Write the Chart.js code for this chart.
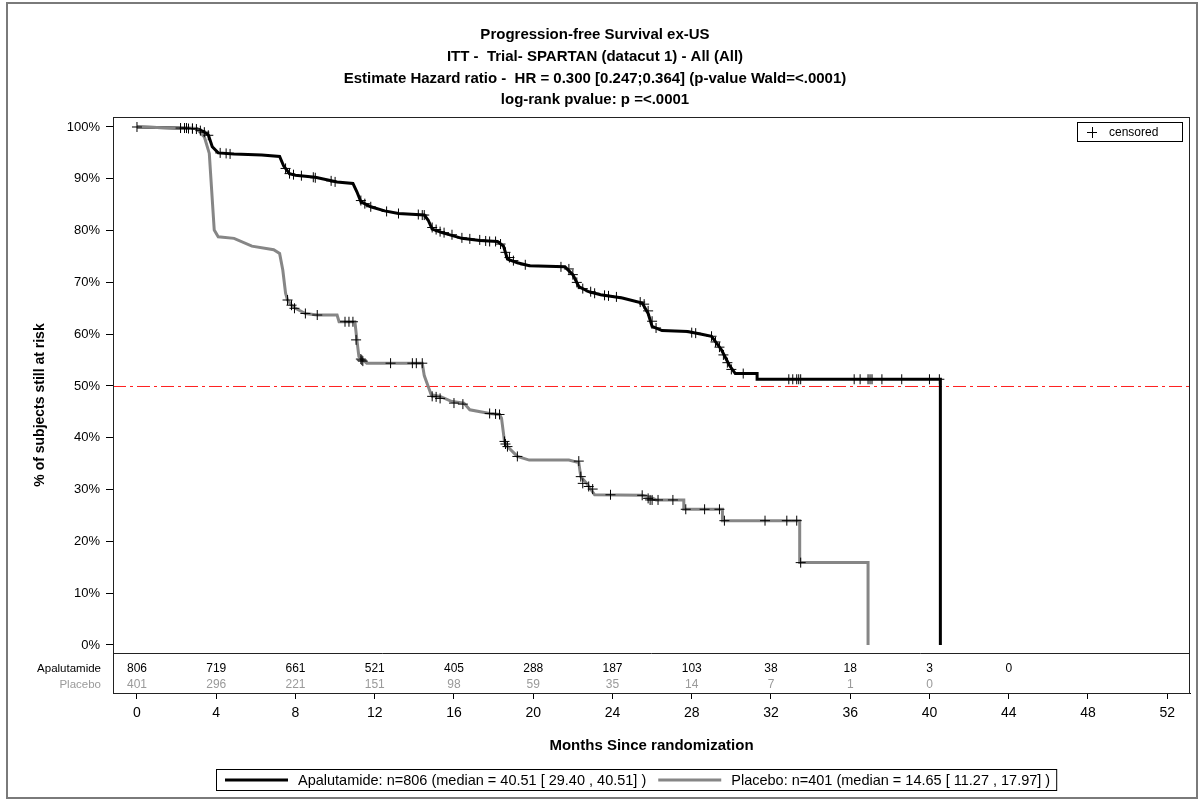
<!DOCTYPE html>
<html>
<head>
<meta charset="utf-8">
<title>Progression-free Survival ex-US</title>
<script src="https://cdn.jsdelivr.net/npm/chart.js@4.4.1/dist/chart.umd.min.js"></script>
<style>
  html, body { margin: 0; padding: 0; background: #fff; }
  #wrap { width: 1204px; height: 802px; }
</style>
</head>
<body>
<div id="wrap"><canvas id="kmChart" width="1204" height="802"></canvas></div>
<script>
const FONT = "'Liberation Sans', Arial, sans-serif";

const titleLines = [
  'Progression-free Survival ex-US',
  'ITT -  Trial- SPARTAN (datacut 1) - All (All)',
  'Estimate Hazard ratio -  HR = 0.300 [0.247;0.364] (p-value Wald=<.0001)',
  'log-rank pvalue: p =<.0001'
];

const xTicks = [0, 4, 8, 12, 16, 20, 24, 28, 32, 36, 40, 44, 48, 52];
const yTicks = [0, 10, 20, 30, 40, 50, 60, 70, 80, 90, 100];

// number at risk table
const riskTimes = [0, 4, 8, 12, 16, 20, 24, 28, 32, 36, 40, 44];
const apaAtRisk = [806, 719, 661, 521, 405, 288, 187, 103, 38, 18, 3, 0];
const plaAtRisk = [401, 296, 221, 151, 98, 59, 35, 14, 7, 1, 0];

// Apalutamide curve (months, % still at risk)
const apaMonths = [0, 3.0, 3.3, 3.6, 3.8, 4.1, 4.9, 6.3, 7.2, 7.4, 7.7, 8.0, 9.0, 10.1, 10.9, 11.1, 11.3, 11.8, 12.5, 13.2,
  14.5, 14.7, 14.9, 15.4, 16.4, 17.3, 18.2, 18.5, 18.7, 19.2, 19.8, 21.6, 22.0, 22.3, 22.8, 23.4, 24.5, 25.5, 25.8, 26.0,
  26.5, 27.8, 28.5, 29.0, 29.5, 29.9, 30.2, 31.3, 31.3, 40.55, 40.55];
const apaSurv = [100, 99.7, 99.2, 98.5, 96.2, 95.0, 94.8, 94.6, 94.3, 92.5, 91.0, 90.7, 90.3, 89.4, 89.1, 87.5, 85.6, 84.6, 83.8, 83.3,
  83.0, 82.0, 80.3, 79.6, 78.5, 78.1, 77.9, 77.0, 74.5, 73.8, 73.2, 73.0, 71.5, 69.2, 68.2, 67.6, 67.0, 66.0, 64.0, 61.5,
  60.7, 60.5, 60.0, 59.6, 57.0, 54.0, 52.4, 52.4, 51.3, 51.3, 0];

// Placebo curve
const plaMonths = [0, 3.0, 3.4, 3.65, 3.9, 4.1, 4.9, 5.8, 6.9, 7.2, 7.36, 7.5, 7.6, 7.8, 8.0, 8.5, 9.1, 10.1, 10.2, 11.0,
  11.1, 11.2, 11.6, 14.4, 14.5, 14.85, 15.3, 15.9, 16.5, 16.8, 17.8, 18.3, 18.4, 18.55, 18.7, 19.2, 19.8, 21.8, 22.3, 22.4,
  22.7, 23.1, 25.5, 26.0, 26.2, 27.6, 27.6, 29.55, 29.55, 33.45, 33.45, 36.9, 36.9];
const plaSurv = [100, 99.7, 98.1, 94.9, 80.1, 78.8, 78.5, 77.0, 76.3, 75.6, 72.4, 67.9, 66.6, 65.6, 65.0, 64.0, 63.7, 63.7, 62.4, 62.4,
  58.9, 55.7, 54.4, 54.4, 52.0, 48.3, 48.0, 47.0, 46.7, 45.4, 44.7, 44.5, 43.8, 39.3, 38.3, 36.4, 35.7, 35.7, 35.2, 32.5,
  31.2, 29.0, 28.9, 28.4, 28.0, 28.0, 26.2, 26.2, 24.0, 24.0, 15.9, 15.9, 0];

// censored observations
const apaCensorMonths = [0, 2.2, 2.4, 2.6, 2.8, 3.0, 3.2, 3.4, 3.6, 4.2, 4.5, 4.7, 7.5, 7.7, 7.9, 8.3, 8.9, 9.0, 9.8, 10.0,
  11.3, 11.5, 11.8, 12.6, 13.2, 14.2, 14.4, 14.5, 14.9, 15.1, 15.3, 15.5, 15.9, 16.4, 16.8, 17.3, 17.6, 17.8, 18.1, 18.35,
  18.6, 18.8, 19.0, 19.6, 21.4, 21.8, 22.0, 22.2, 22.5, 22.9, 23.1, 23.6, 23.8, 24.2, 25.4, 25.6, 25.8, 26.0, 26.2, 28.0,
  28.2, 29.0, 29.2, 29.4, 29.6, 29.8, 30.0, 30.6, 32.9, 33.1, 33.3, 33.4, 33.5, 36.2, 36.5, 36.9, 37.0, 37.1, 37.6, 38.6,
  40.0, 40.5];
const apaCensorSurv = [100, 99.8, 99.8, 99.7, 99.7, 99.6, 99.3, 99.0, 98.4, 95.0, 94.9, 94.8, 92.0, 91.0, 90.8, 90.6, 90.3, 90.2, 89.6, 89.4,
  85.8, 85.2, 84.6, 83.7, 83.3, 83.1, 83.0, 83.0, 80.6, 80.2, 79.8, 79.6, 79.2, 78.6, 78.4, 78.2, 78.0, 77.9, 77.9, 77.4,
  75.8, 74.8, 74.2, 73.4, 73.0, 72.6, 71.5, 70.0, 68.8, 68.2, 67.9, 67.5, 67.4, 67.2, 66.2, 65.8, 64.5, 62.5, 61.2, 60.3,
  60.2, 59.6, 58.5, 57.5, 56.0, 54.5, 53.2, 52.4, 51.3, 51.3, 51.3, 51.3, 51.3, 51.3, 51.3, 51.3, 51.3, 51.3, 51.3, 51.3,
  51.3, 51.3];
const plaCensorMonths = [2.5, 2.8, 7.6, 7.8, 7.95, 8.5, 9.1, 10.5, 10.7, 10.9, 11.06, 11.3, 11.35, 11.4, 12.8, 13.9, 14.1, 14.4,
  14.9, 15.1, 15.3, 16.0, 16.45, 17.8, 18.1, 18.3, 18.55, 18.6, 18.7, 19.2, 22.3, 22.4, 22.5, 22.8, 23.0, 23.9, 25.5, 25.8,
  25.9, 26.0, 26.3, 27.05, 27.7, 28.65, 29.4, 29.65, 31.7, 32.8, 33.3, 33.5];
const plaCensorSurv = [99.8, 99.7, 66.6, 65.6, 65.0, 64.0, 63.7, 62.4, 62.4, 62.4, 58.9, 55.2, 55.0, 54.8, 54.4, 54.4, 54.4, 54.4,
  48.0, 47.9, 47.6, 46.7, 46.5, 44.7, 44.6, 44.5, 39.3, 38.8, 38.3, 36.4, 35.5, 32.5, 31.2, 30.6, 30.1, 29.0, 28.9, 28.3,
  28.0, 28.0, 28.0, 28.0, 26.2, 26.2, 26.2, 24.0, 24.0, 24.0, 24.0, 15.9];

const medianRef = 50;

const armNames = ['Apalutamide', 'Placebo'];
const armN = [806, 401];
const armMedian = ['40.51', '14.65'];
const armLow = ['29.40', '11.27'];
const armHigh = ['40.51', '17.97'];
const armColors = ['#000000', '#868686'];
const riskColors = ['#000000', '#9a9a9a'];

const toXY = (xs, ys) => xs.map((x, i) => ({ x: x, y: ys[i] }));

// extras drawn straight on the canvas: frames, 50% line, risk table, legends
const kmExtras = {
  id: 'kmExtras',
  beforeDatasetsDraw(chart) {
    const { ctx, chartArea: ca, scales } = chart;
    const y50 = scales.y.getPixelForValue(medianRef);
    ctx.save();
    ctx.strokeStyle = '#ff2020';
    ctx.lineWidth = 1;
    ctx.setLineDash([13, 4, 3, 4]);
    ctx.beginPath();
    ctx.moveTo(ca.left, y50 + 0.5);
    ctx.lineTo(ca.right, y50 + 0.5);
    ctx.stroke();
    ctx.restore();
  },
  afterDraw(chart) {
    const { ctx, chartArea: ca, scales } = chart;
    ctx.save();

    // whole picture border
    ctx.strokeStyle = '#7a7a7a';
    ctx.lineWidth = 2;
    ctx.strokeRect(7, 3, 1190, 795);

    // plot frame
    ctx.strokeStyle = '#222';
    ctx.lineWidth = 1;
    ctx.strokeRect(ca.left + 0.5, ca.top + 0.5, ca.right - ca.left - 1, ca.bottom - ca.top);

    // risk table
    const sepY = ca.bottom - 40;
    ctx.beginPath();
    ctx.moveTo(ca.left, sepY + 0.5);
    ctx.lineTo(ca.right, sepY + 0.5);
    ctx.stroke();

    const rows = [apaAtRisk, plaAtRisk];
    const rowY = [ca.bottom - 24, ca.bottom - 8];
    rows.forEach((vals, r) => {
      ctx.fillStyle = riskColors[r];
      ctx.textBaseline = 'middle';
      ctx.font = '11.5px ' + FONT;
      ctx.textAlign = 'right';
      ctx.fillText(armNames[r], ca.left - 12, rowY[r]);
      ctx.font = '12px ' + FONT;
      ctx.textAlign = 'center';
      vals.forEach((v, i) => {
        ctx.fillText(String(v), scales.x.getPixelForValue(riskTimes[i]), rowY[r]);
      });
    });

    // censored key, top right
    const kx = ca.right - 113, ky = ca.top + 5;
    ctx.strokeStyle = '#000';
    ctx.strokeRect(kx + 0.5, ky + 0.5, 105, 19);
    ctx.beginPath();
    ctx.moveTo(kx + 10, ky + 10.5); ctx.lineTo(kx + 20, ky + 10.5);
    ctx.moveTo(kx + 15.5, ky + 5); ctx.lineTo(kx + 15.5, ky + 16);
    ctx.stroke();
    ctx.fillStyle = '#000';
    ctx.font = '12px ' + FONT;
    ctx.textAlign = 'left';
    ctx.textBaseline = 'middle';
    ctx.fillText('censored', kx + 32, ky + 11);

    // arm legend under the axis title
    ctx.font = '14.5px ' + FONT;
    const boxL = 216, boxT = 769, boxH = 21;
    let cx = boxL + 9;
    armNames.forEach((name, i) => {
      const label = name + ': n=' + armN[i] + ' (median = ' + armMedian[i] + ' [ ' + armLow[i] + ' , ' + armHigh[i] + '] )';
      ctx.strokeStyle = armColors[i];
      ctx.lineWidth = 3;
      ctx.beginPath();
      ctx.moveTo(cx, boxT + boxH / 2 + 0.5);
      ctx.lineTo(cx + 63, boxT + boxH / 2 + 0.5);
      ctx.stroke();
      ctx.fillStyle = '#000';
      ctx.fillText(label, cx + 73, boxT + boxH / 2 + 1);
      cx += 73 + ctx.measureText(label).width + 12;
    });
    ctx.strokeStyle = '#000';
    ctx.lineWidth = 1;
    ctx.strokeRect(boxL + 0.5, boxT + 0.5, cx - boxL - 6, boxH);

    ctx.restore();
  }
};

new Chart(document.getElementById('kmChart'), {
  type: 'line',
  data: {
    datasets: [
      {
        label: 'censored Apalutamide',
        data: toXY(apaCensorMonths, apaCensorSurv),
        showLine: false,
        pointStyle: 'cross',
        pointRadius: 5,
        pointBorderWidth: 1,
        pointBorderColor: '#000',
        order: 0
      },
      {
        label: 'censored Placebo',
        data: toXY(plaCensorMonths, plaCensorSurv),
        showLine: false,
        pointStyle: 'cross',
        pointRadius: 5,
        pointBorderWidth: 1,
        pointBorderColor: '#000',
        order: 0
      },
      {
        label: 'Placebo',
        data: toXY(plaMonths, plaSurv),
        borderColor: armColors[1],
        borderWidth: 3,
        pointRadius: 0,
        tension: 0,
        fill: false,
        order: 1
      },
      {
        label: 'Apalutamide',
        data: toXY(apaMonths, apaSurv),
        borderColor: armColors[0],
        borderWidth: 3,
        pointRadius: 0,
        tension: 0,
        fill: false,
        order: 2
      }
    ]
  },
  options: {
    responsive: false,
    animation: false,
    devicePixelRatio: 1,
    layout: { padding: { left: 0, right: 14, top: 0, bottom: 0 } },
    plugins: {
      legend: { display: false },
      tooltip: { enabled: false },
      title: {
        display: true,
        text: titleLines,
        color: '#000',
        font: { family: FONT, size: 15, weight: 'bold', lineHeight: 1.45 },
        padding: { top: 24, bottom: 6 }
      }
    },
    scales: {
      x: {
        type: 'linear',
        min: -1.21,
        max: 53.15,
        afterFit(scale) { scale.height = 109; },
        afterBuildTicks(scale) { scale.ticks = xTicks.map(v => ({ value: v })); },
        grid: { drawOnChartArea: false, drawTicks: true, tickLength: 6, color: '#000' },
        border: { display: true, color: '#000' },
        ticks: { color: '#000', padding: 6, font: { family: FONT, size: 14 }, autoSkip: false, maxRotation: 0 },
        title: {
          display: true,
          text: 'Months Since randomization',
          color: '#000',
          font: { family: FONT, size: 15, weight: 'bold' },
          padding: { top: 0, bottom: 47 }
        }
      },
      y: {
        type: 'linear',
        min: -9.27,
        max: 101.93,
        afterFit(scale) { scale.width = 113; },
        afterBuildTicks(scale) { scale.ticks = yTicks.map(v => ({ value: v })); },
        grid: { drawOnChartArea: false, drawTicks: true, tickLength: 7, color: '#000' },
        border: { display: true, color: '#000' },
        ticks: { color: '#000', padding: 6, font: { family: FONT, size: 13 }, callback: v => v + '%' },
        title: {
          display: true,
          text: '% of subjects still at risk',
          color: '#000',
          font: { family: FONT, size: 14, weight: 'bold' },
          padding: { top: 32, bottom: 0 }
        }
      }
    }
  },
  plugins: [kmExtras]
});
</script>
</body>
</html>
